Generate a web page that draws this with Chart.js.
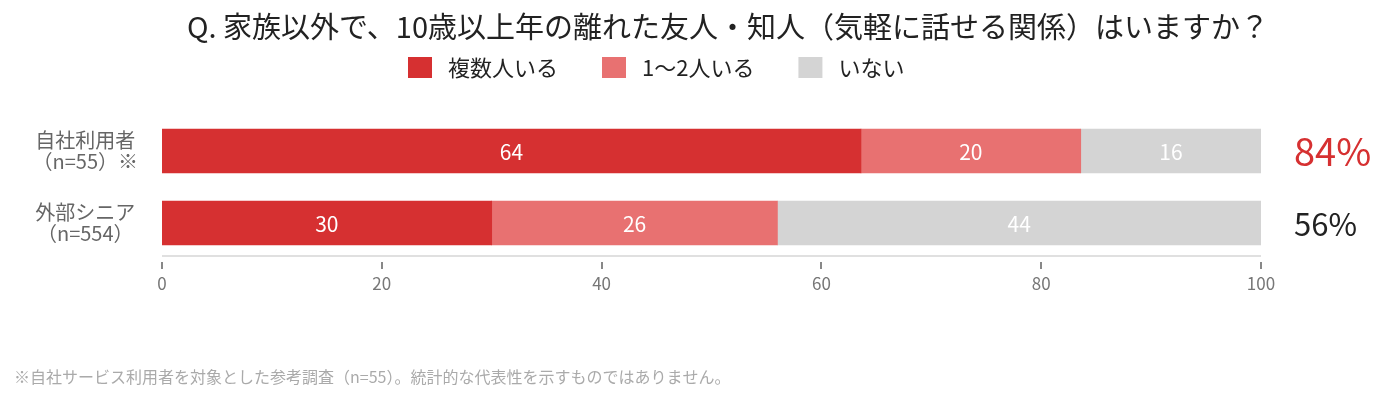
<!DOCTYPE html>
<html lang="ja">
<head>
<meta charset="utf-8">
<script src="https://cdn.jsdelivr.net/npm/chart.js@4.4.1/dist/chart.umd.min.js"></script>
<style>
  html, body { margin: 0; padding: 0; background: #fff; }
  #wrap { width: 1388px; height: 400px; }
</style>
</head>
<body>
<div id="wrap"><canvas id="canvas_grafico"></canvas></div>
<script>
const categorias = [["自社利用者", "（n=55）※"], ["外部シニア", "（n=554）"]];
const nombresSeries = ["複数人いる", "1〜2人いる", "いない"];
const valoresVarios = [63.6, 30];
const valoresUnoDos = [20.0, 26];
const valoresNinguno = [16.4, 44];
const ticksEje = [0, 20, 40, 60, 80, 100];
const colores = ["#d63031", "#e87171", "#d4d4d4"];
const coloresTotal = ["#d63031", "#222222"];
const titulo = "Q. 家族以外で、10歳以上年の離れた友人・知人（気軽に話せる関係）はいますか？";
const nota = "※自社サービス利用者を対象とした参考調査（n=55）。統計的な代表性を示すものではありません。";

const fuente = "'Noto Sans CJK JP', 'Noto Sans', sans-serif";
const canvas_grafico = document.getElementById("canvas_grafico");

/* textos extra: titulo, leyenda, valores, totales, eje */
const dibujoExtra = {
  id: "dibujoExtra",
  afterDraw(chart) {
    const ctx = chart.ctx;
    const area = chart.chartArea;
    const xScale = chart.scales.x;
    ctx.save();

    // titulo
    ctx.fillStyle = "#222";
    ctx.font = "29px " + fuente;
    ctx.textAlign = "center";
    ctx.textBaseline = "middle";
    ctx.fillText(titulo, 728, 27);

    // leyenda
    ctx.font = "22px " + fuente;
    ctx.textAlign = "left";
    let x = 408;
    nombresSeries.forEach((nombre, i) => {
      ctx.fillStyle = colores[i];
      ctx.fillRect(x, 57, 24, 21);
      ctx.fillStyle = "#222";
      ctx.fillText(nombre, x + 40, 68);
      x += 40 + ctx.measureText(nombre).width + 44;
    });

    // linea del eje y marcas
    ctx.fillStyle = "#e0e0e0";
    ctx.fillRect(area.left, area.bottom - 4, area.right - area.left, 2);
    ctx.fillStyle = "#888";
    ticksEje.forEach((t) => {
      const px = xScale.getPixelForValue(t);
      ctx.fillRect(Math.round(px) - 1, area.bottom + 3, 2, 7);
    });

    // valores dentro de las barras
    ctx.font = "21px " + fuente;
    ctx.textAlign = "center";
    ctx.fillStyle = "#fff";
    chart.data.datasets.forEach((ds, i) => {
      chart.getDatasetMeta(i).data.forEach((bar, j) => {
        ctx.fillText(String(Math.round(ds.data[j])), (bar.x + bar.base) / 2, bar.y + 1);
      });
    });

    // totales a la derecha
    ctx.textAlign = "left";
    chart.getDatasetMeta(0).data.forEach((bar, j) => {
      const total = Math.round(valoresVarios[j] + valoresUnoDos[j]);
      ctx.fillStyle = coloresTotal[j];
      ctx.font = (j === 0 ? "38px " : "31px ") + fuente;
      ctx.fillText(total + "%", 1294, bar.y + 1);
    });

    // nota
    ctx.fillStyle = "#aaa";
    ctx.font = "16px " + fuente;
    ctx.fillText(nota, 14, 377);

    ctx.restore();
  }
};

const config = {
  type: "bar",
  data: {
    labels: categorias,
    datasets: [
      { label: nombresSeries[0], data: valoresVarios, backgroundColor: colores[0] },
      { label: nombresSeries[1], data: valoresUnoDos, backgroundColor: colores[1] },
      { label: nombresSeries[2], data: valoresNinguno, backgroundColor: colores[2] }
    ]
  },
  options: {
    indexAxis: "y",
    responsive: true,
    maintainAspectRatio: false,
    animation: false,
    barThickness: 44,
    layout: { padding: { top: 115, right: 127, bottom: 0, left: 0 } },
    plugins: {
      legend: { display: false },
      tooltip: { enabled: false },
      title: { display: false }
    },
    scales: {
      x: {
        stacked: true,
        min: 0,
        max: 100,
        afterBuildTicks: (scale) => { scale.ticks = ticksEje.map((v) => ({ value: v })); },
        afterFit: (scale) => { scale.height = 141; },
        grid: { display: false, drawTicks: false },
        border: { display: false },
        ticks: { color: "#777", padding: 14, font: { family: fuente, size: 17 } }
      },
      y: {
        stacked: true,
        afterFit: (scale) => { scale.width = 162; },
        grid: { display: false, drawTicks: false },
        border: { display: false },
        ticks: {
          color: "#666",
          padding: 24,
          crossAlign: "center",
          font: { family: fuente, size: 20, lineHeight: 1.08 }
        }
      }
    }
  },
  plugins: [dibujoExtra]
};

new Chart(canvas_grafico, config);
</script>
</body>
</html>
